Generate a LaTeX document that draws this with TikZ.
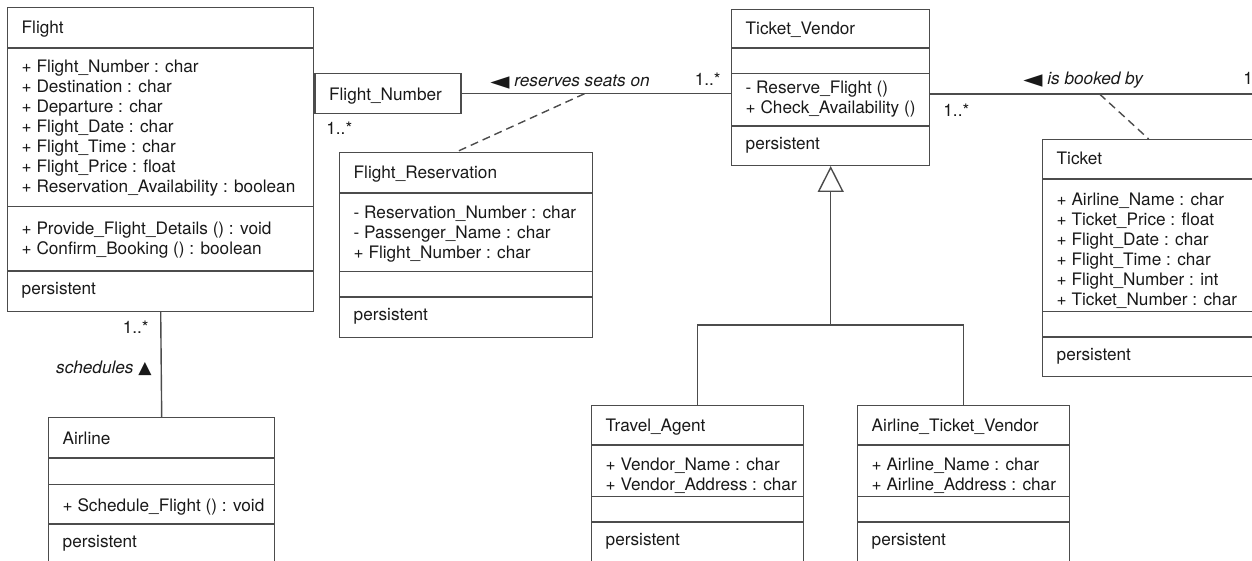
\documentclass[tikz,border=0pt]{standalone}
\usepackage{fontspec}
\setmainfont{TeX Gyre Heros}
\newfontfamily\symfont{DejaVu Sans}
\usepackage{tikz}
\usetikzlibrary{shapes.multipart}
\usetikzlibrary{arrows.meta}
\usepackage{xcolor}
\definecolor{linegray}{gray}{0.3}
\definecolor{textgray}{gray}{0.1}
\newcommand{\umlfont}{\fontsize{8.6pt}{10pt}\selectfont}
\newcommand{\tp}[1]{\rule{0pt}{#1}\hspace*{3.5pt}}
\newcommand{\nl}{\\\hspace*{3.5pt}}
\newcommand{\bt}[1]{\rule[-#1]{0pt}{#1}}
\newcommand{\gap}[1]{\rule{0pt}{#1}\hspace*{1pt}}
\newcommand{\lpoint}{{\fontsize{12.5pt}{10pt}\symfont\upshape\raisebox{-1.5pt}{◄}}}

\begin{document}
\begin{tikzpicture}[x=0.5pt,y=-0.5pt,
    umlclass/.style={rectangle split, rectangle split parts=4,
      rectangle split part align={left,left,left,left},
      draw=linegray, line width=0.7pt, anchor=north west,
      inner xsep=3.5pt, inner ysep=0pt, align=left, text=textgray, font=\umlfont},
    qualbox/.style={rectangle, draw=linegray, line width=0.7pt, anchor=north west,
      inner xsep=3.5pt, inner ysep=0pt, text width=66pt, align=left,
      text=textgray, font=\umlfont},
    mult/.style={inner sep=0pt, text=textgray, font=\umlfont},
    rolelbl/.style={inner sep=0pt, text=textgray, font=\umlfont\itshape},
    link/.style={draw=linegray, line width=0.7pt},
    assocdash/.style={link, dash pattern=on 4pt off 2.5pt}]

  \useasboundingbox (0,0) rectangle (1252,561);
  \clip (0,0) rectangle (1252,561);

  \node[umlclass, minimum width=153pt] (flight) at (7,7)
    {\tp{12.5pt}Flight\bt{7pt}
     \nodepart{two}\tp{12pt}+ Flight\_Number : char\nl
       + Destination : char\nl
       + Departure : char\nl
       + Flight\_Date : char\nl
       + Flight\_Time : char\nl
       + Flight\_Price : float\nl
       + Reservation\_Availability : boolean\bt{6.5pt}
     \nodepart{three}\tp{13.5pt}+ Provide\_Flight\_Details () : void\nl
       + Confirm\_Booking () : boolean\bt{8pt}
     \nodepart{four}\tp{11.5pt}persistent\bt{8pt}};

  \node[qualbox] (qual) at (flight.north east |- 0,73)
    {\tp{13.5pt}Flight\_Number\bt{6.5pt}};

  \node[umlclass, minimum width=126.5pt] (frres) at (339,152)
    {\tp{12.5pt}Flight\_Reservation\bt{7pt}
     \nodepart{two}\tp{12.5pt}- Reservation\_Number : char\nl
       - Passenger\_Name : char\nl
       + Flight\_Number : char\bt{6pt}
     \nodepart{three}\gap{12pt}
     \nodepart{four}\tp{11.5pt}persistent\bt{8pt}};

  \node[umlclass, minimum width=99pt] (tvendor) at (731,9)
    {\tp{12pt}Ticket\_Vendor\bt{6.5pt}
     \nodepart{two}\gap{12pt}
     \nodepart{three}\tp{9.5pt}- Reserve\_Flight ()\nl
       + Check\_Availability ()\bt{6pt}
     \nodepart{four}\tp{11.5pt}persistent\bt{7.5pt}};

  \node[umlclass, minimum width=106pt] (ticket) at (1042,139)
    {\tp{12pt}Ticket\bt{7pt}
     \nodepart{two}\tp{13pt}+ Airline\_Name : char\nl
       + Ticket\_Price : float\nl
       + Flight\_Date : char\nl
       + Flight\_Time : char\nl
       + Flight\_Number : int\nl
       + Ticket\_Number : char\bt{2.5pt}
     \nodepart{three}\gap{12pt}
     \nodepart{four}\tp{11.5pt}persistent\bt{7.5pt}};

  \node[umlclass, minimum width=113pt] (airline) at (48,417)
    {\tp{13pt}Airline\bt{6.5pt}
     \nodepart{two}\gap{12.5pt}
     \nodepart{three}\tp{13pt}+ Schedule\_Flight () : void\bt{6pt}
     \nodepart{four}\tp{11.5pt}persistent\bt{8pt}};

  \node[umlclass, minimum width=106pt] (tagent) at (591,405)
    {\tp{12.5pt}Travel\_Agent\bt{6.5pt}
     \nodepart{two}\tp{12.5pt}+ Vendor\_Name : char\nl
       + Vendor\_Address : char\bt{2.5pt}
     \nodepart{three}\gap{12pt}
     \nodepart{four}\tp{11.5pt}persistent\bt{8pt}};

  \node[umlclass, minimum width=106pt] (atvendor) at (857,405)
    {\tp{12.5pt}Airline\_Ticket\_Vendor\bt{6.5pt}
     \nodepart{two}\tp{12.5pt}+ Airline\_Name : char\nl
       + Airline\_Address : char\bt{2.5pt}
     \nodepart{three}\gap{12pt}
     \nodepart{four}\tp{11.5pt}persistent\bt{8pt}};

  % associations
  \draw[link] (qual.east) -- coordinate[pos=0.456] (rsvpt) (qual.east -| tvendor.west);
  \draw[assocdash] (rsvpt) -- ([xshift=-5]frres.north);

  \coordinate (bookend) at (1262,94);
  \draw[link] (tvendor.east |- bookend) -- coordinate[pos=0.51] (bookpt) (bookend);
  \draw[assocdash] (bookpt) -- (ticket.north);

  \draw[link] (flight.south) -- (airline.north);

  % generalization
  \coordinate (genjoin) at (tvendor.south |- 0,325);
  \draw[link] (tagent.north) |- (genjoin) -| (atvendor.north);
  \draw[link, -{Triangle[open, length=13pt, width=13pt]}] (genjoin) -- (tvendor.south);

  \node[mult, anchor=base west] (mqual) at (326,135) {1..*};
  \node[mult, anchor=base east] (mvendl) at (721,86) {1..*};
  \node[mult, anchor=base west] (mvendr) at (943,117) {1..*};
  \node[mult, anchor=base west] (mticket) at (1243,85) {1};
  \node[mult, anchor=base east] (mflight) at (149,333) {1..*};

  \node[rolelbl, anchor=base west] (reservelbl) at (490,87) {\lpoint\ reserves seats on};
  \node[rolelbl, anchor=base west] (bookedlbl) at (1023,85) {\lpoint\ is booked by};
  \node[rolelbl, anchor=base east] (schedlbl) at (152,373) {schedules {\symfont\upshape ▲}};
\end{tikzpicture}
\end{document}
